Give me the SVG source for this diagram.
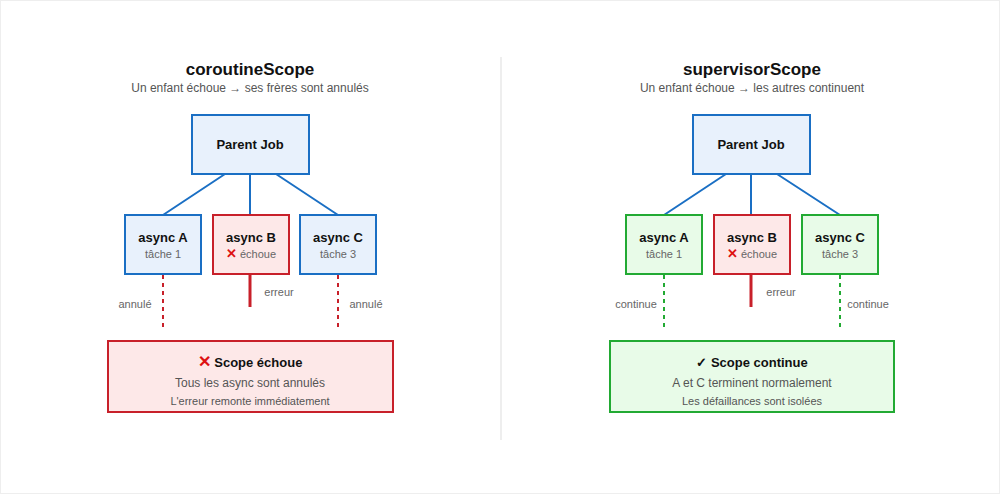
<svg xmlns="http://www.w3.org/2000/svg" width="1000" height="494" viewBox="0 0 1000 494">
<style>
text{font-family:"Liberation Sans",Arial,sans-serif;text-anchor:middle}
.t{font-size:17px;font-weight:bold;fill:#111}
.s{font-size:12px;fill:#555}
.nb{fill:#e8f1fc;stroke:#1a6fc4;stroke-width:2}
.nr{fill:#fde8e8;stroke:#c8202a;stroke-width:2}
.ng{fill:#e8fbe8;stroke:#22aa33;stroke-width:2}
.h{font-size:13px;font-weight:bold;fill:#111}
.l{font-size:11px;fill:#666}
.e{font-size:11px;fill:#555}
.cb{stroke:#1a6fc4;stroke-width:2;fill:none}
.dr{stroke:#c8202a;stroke-width:2;stroke-dasharray:4,4}
.dg{stroke:#22aa33;stroke-width:2;stroke-dasharray:4,4}
.sr{stroke:#c8202a;stroke-width:3}
.x{fill:#dd1111;font-weight:bold}
</style>
<rect x="0.5" y="0.5" width="999" height="493" fill="#fff" stroke="#eee"/>
<line x1="501" y1="57" x2="501" y2="440" stroke="#ddd"/>
<text class="t" x="250" y="75">coroutineScope</text>
<text class="s" x="250" y="92">Un enfant échoue → ses frères sont annulés</text>
<text class="t" x="752" y="75">supervisorScope</text>
<text class="s" x="752" y="92">Un enfant échoue → les autres continuent</text>
<g id="connectors">
<path class="cb" d="M225 174L163 215M250 174V215M276 174L338 215"/>
<path class="cb" d="M726 174L664 215M751 174V215M777 174L840 215"/>
<line class="dr" x1="163" y1="275" x2="163" y2="330"/>
<line class="dr" x1="338" y1="275" x2="338" y2="330"/>
<line class="sr" x1="250" y1="275" x2="250" y2="307"/>
<line class="dg" x1="664" y1="275" x2="664" y2="330"/>
<line class="dg" x1="840" y1="275" x2="840" y2="330"/>
<line class="sr" x1="751" y1="275" x2="751" y2="307"/>
<text class="l" x="135" y="308">annulé</text>
<text class="l" x="366" y="308">annulé</text>
<text class="l" x="279" y="296">erreur</text>
<text class="l" x="636" y="308">continue</text>
<text class="l" x="868" y="308">continue</text>
<text class="l" x="781" y="296">erreur</text>
</g>
<g id="parentL"><rect class="nb" x="192" y="115" width="117" height="59"/><text class="h" x="250" y="149">Parent Job</text></g>
<g id="aL"><rect class="nb" x="125" y="215" width="76" height="59"/><text class="h" x="163" y="242">async A</text><text class="l" x="163" y="258">tâche 1</text></g>
<g id="bL"><rect class="nr" x="213" y="215" width="76" height="59"/><text class="h" x="251" y="242">async B</text><text class="l" x="251" y="258"><tspan class="x" font-size="13">✕</tspan> échoue</text></g>
<g id="cL"><rect class="nb" x="300" y="215" width="76" height="59"/><text class="h" x="338" y="242">async C</text><text class="l" x="338" y="258">tâche 3</text></g>
<g id="scopeL"><rect class="nr" x="108" y="341" width="285" height="71"/><text class="h" x="250" y="367"><tspan class="x" font-size="16">✕</tspan> Scope échoue</text><text class="s" x="250" y="387" font-size="11">Tous les async sont annulés</text><text class="e" x="250" y="405" font-size="10">L'erreur remonte immédiatement</text></g>
<g id="parentR"><rect class="nb" x="693" y="115" width="117" height="59"/><text class="h" x="751" y="149">Parent Job</text></g>
<g id="aR"><rect class="ng" x="626" y="215" width="76" height="59"/><text class="h" x="664" y="242">async A</text><text class="l" x="664" y="258">tâche 1</text></g>
<g id="bR"><rect class="nr" x="714" y="215" width="76" height="59"/><text class="h" x="752" y="242">async B</text><text class="l" x="752" y="258"><tspan class="x" font-size="13">✕</tspan> échoue</text></g>
<g id="cR"><rect class="ng" x="802" y="215" width="76" height="59"/><text class="h" x="840" y="242">async C</text><text class="l" x="840" y="258">tâche 3</text></g>
<g id="scopeR"><rect class="ng" x="610" y="341" width="284" height="71"/><text class="h" x="752" y="367">✓ Scope continue</text><text class="s" x="752" y="387" font-size="11">A et C terminent normalement</text><text class="e" x="752" y="405" font-size="10">Les défaillances sont isolées</text></g>
</svg>
